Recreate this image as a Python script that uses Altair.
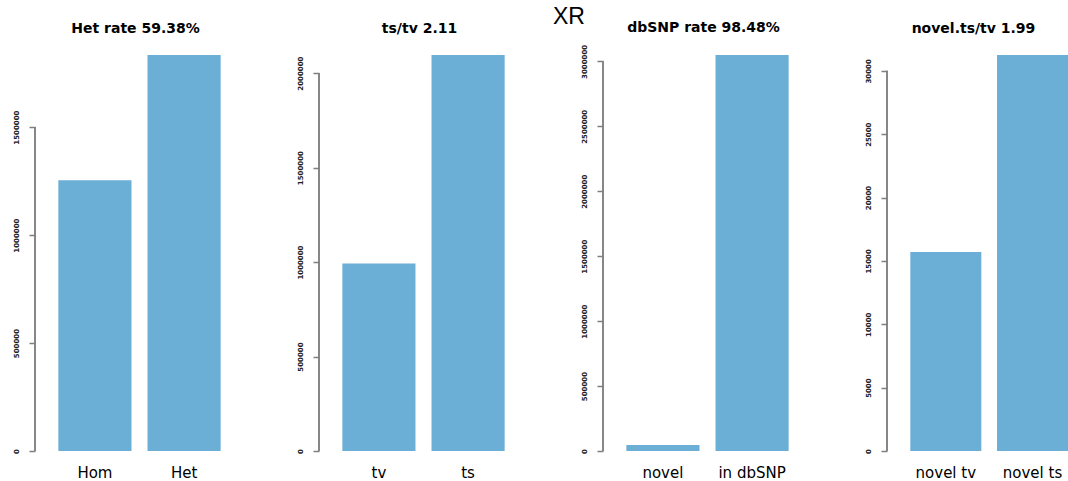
import altair as alt
import pandas as pd

main_title = "XR"
panel_titles = ["Het rate 59.38%", "ts/tv 2.11", "dbSNP rate 98.48%", "novel.ts/tv 1.99"]
categories = [["Hom", "Het"], ["tv", "ts"], ["novel", "in dbSNP"], ["novel tv", "novel ts"]]
het_values = [1254500, 1834000]
tstv_values = [993000, 2096000]
dbsnp_values = [47000, 3049000]
novel_tstv_values = [15700, 31250]
values = [het_values, tstv_values, dbsnp_values, novel_tstv_values]
y_ticks = [
    [0, 500000, 1000000, 1500000],
    [0, 500000, 1000000, 1500000, 2000000],
    [0, 500000, 1000000, 1500000, 2000000, 2500000, 3000000],
    [0, 5000, 10000, 15000, 20000, 25000, 30000],
]

BAR = "#6BAED6"
AX = "#7f7f7f"
FONT = "DejaVu Sans"
title_offsets = [8, 8, -2, 8]


def panel(i, last):
    df = pd.DataFrame({"cat": categories[i], "val": values[i]})
    if last:
        w = 181
        xs = alt.Scale(paddingInner=0.181, paddingOuter=0.1345, align=1)
    else:
        w = 209
        xs = alt.Scale(paddingInner=0.18, paddingOuter=0.262)
    bars = alt.Chart(df).mark_bar(color=BAR).encode(
        x=alt.X("cat:N", sort=categories[i], scale=xs,
                axis=alt.Axis(title=None, domain=False, ticks=False, tickSize=0,
                              labelAngle=0, labelFont=FONT, labelFontSize=15,
                              labelColor="black", labelPadding=14)),
        y=alt.Y("val:Q", scale=alt.Scale(zero=True, nice=False),
                axis=alt.Axis(title=None, values=y_ticks[i], format="d", domain=False,
                              grid=False, tickColor=AX, tickSize=6, tickWidth=1.5,
                              labelAngle=270, labelAlign="center", labelBaseline="middle",
                              labelFont=FONT, labelFontSize=7, labelFontWeight="bold",
                              labelColor="#222222",
                              labelPadding=13, labelOverlap=False, labelFlush=False)),
    )
    rule = alt.Chart(df).mark_rule(color=AX, strokeWidth=1.5).encode(
        x=alt.value(0),
        y=alt.datum(y_ticks[i][0]),
        y2=alt.datum(y_ticks[i][-1]),
    )
    return alt.layer(bars, rule).properties(
        width=w, height=396,
        title=alt.TitleParams(panel_titles[i], font=FONT, fontSize=14, fontWeight="bold",
                              color="black", anchor="middle", baseline="alphabetic",
                              frame="group", offset=title_offsets[i], dx=-4),
    )


chart = alt.hconcat(*[panel(i, i == 3) for i in range(4)], spacing=75, bounds="flush").properties(
    title=alt.TitleParams(main_title, font="Liberation Sans", fontSize=23, fontWeight="normal",
                          color="black", anchor="middle", frame="group", baseline="alphabetic",
                          offset=-26, dx=534),
    padding={"left": 12, "top": 6, "right": 0, "bottom": 0},
).configure_view(stroke=None)

chart.save("out.html", embed_options={"renderer": "svg", "actions": False})
